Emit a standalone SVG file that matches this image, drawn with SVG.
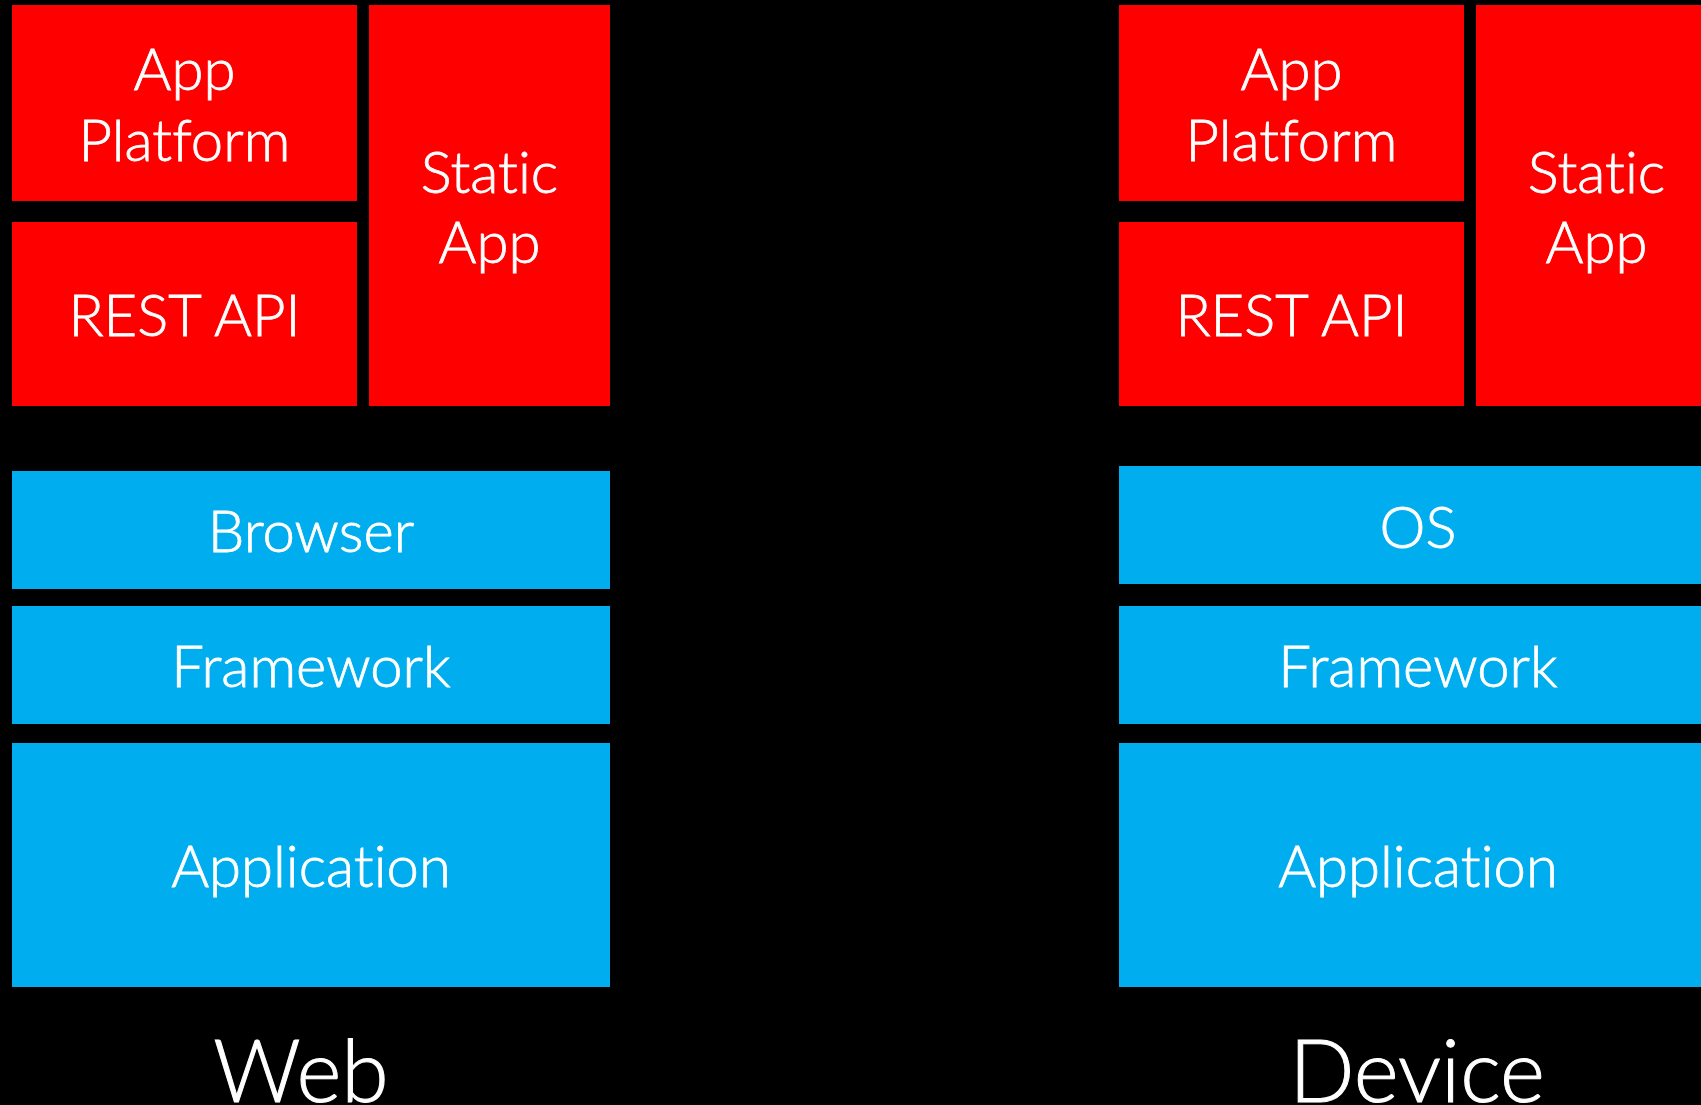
<svg xmlns="http://www.w3.org/2000/svg" width="1701" height="1105" viewBox="0 0 1701 1105">
<style>
.red{fill:#FF0000}
.blue{fill:#00ADEF}
.lbl{fill:#FFFFFF;stroke:#FFFFFF;stroke-width:0.8px;font-family:Lato,"Open Sans",sans-serif;font-weight:300;font-size:58px;text-anchor:middle;font-variant-ligatures:none}
.big{fill:#FFFFFF;stroke:#FFFFFF;stroke-width:1px;font-family:Lato,"Open Sans",sans-serif;font-weight:300;font-size:86px;text-anchor:middle;font-variant-ligatures:none}
</style>
<rect x="0" y="0" width="1701" height="1105" fill="#000000"/>
<g id="web">
<g id="web-app-platform"><rect class="red" x="12" y="5" width="345" height="196"/><text class="lbl" x="184.5" y="90">App</text><text class="lbl" x="184.5" y="161">Platform</text></g>
<g id="web-rest-api"><rect class="red" x="12" y="222" width="345" height="184"/><text class="lbl" x="184.5" y="336">REST API</text></g>
<g id="web-static-app"><rect class="red" x="369" y="5" width="241" height="401"/><text class="lbl" x="489.5" y="193">Static</text><text class="lbl" x="489.5" y="263">App</text></g>
<g id="web-browser"><rect class="blue" x="12" y="471" width="598" height="118"/><text class="lbl" x="311" y="552">Browser</text></g>
<g id="web-framework"><rect class="blue" x="12" y="606" width="598" height="118"/><text class="lbl" x="311" y="687">Framework</text></g>
<g id="web-application"><rect class="blue" x="12" y="743" width="598" height="244"/><text class="lbl" x="311" y="887">Application</text></g>
<text id="web-label" class="big" x="301" y="1102">Web</text>
</g>
<g id="device">
<g id="device-app-platform"><rect class="red" x="1119" y="5" width="345" height="196"/><text class="lbl" x="1291.5" y="90">App</text><text class="lbl" x="1291.5" y="161">Platform</text></g>
<g id="device-rest-api"><rect class="red" x="1119" y="222" width="345" height="184"/><text class="lbl" x="1291.5" y="336">REST API</text></g>
<g id="device-static-app"><rect class="red" x="1476" y="5" width="241" height="401"/><text class="lbl" x="1596.5" y="193">Static</text><text class="lbl" x="1596.5" y="263">App</text></g>
<g id="device-os"><rect class="blue" x="1119" y="466" width="598" height="118"/><text class="lbl" x="1418" y="548">OS</text></g>
<g id="device-framework"><rect class="blue" x="1119" y="606" width="598" height="118"/><text class="lbl" x="1418" y="687">Framework</text></g>
<g id="device-application"><rect class="blue" x="1119" y="743" width="598" height="244"/><text class="lbl" x="1418" y="887">Application</text></g>
<text id="device-label" class="big" x="1417" y="1102">Device</text>
</g>
<g id="connectors"></g>
</svg>
